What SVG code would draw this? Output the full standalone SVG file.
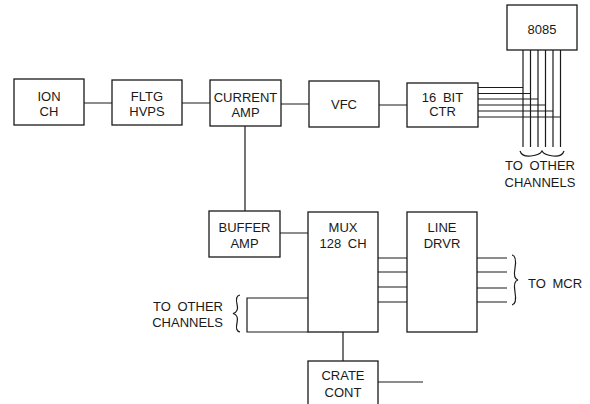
<svg xmlns="http://www.w3.org/2000/svg" width="590" height="404" viewBox="0 0 590 404">
<style>
.box{fill:#fff;stroke:#1a1a1a;stroke-width:1.3}
.ln{fill:none;stroke:#1a1a1a;stroke-width:1.2}
text{font-family:"Liberation Sans",Arial,sans-serif;font-size:13px;fill:#1a1a1a}
.c{text-anchor:middle}
</style>
<rect width="590" height="404" fill="#fff"/>
<g id="connectors" class="ln">
<path d="M84,103H112M182,103H210M281,104H309M379,105H407M245,126V211M280,233H308"/>
<path d="M378,258H407M378,272H407M378,287H407M378,302H407"/>
<path d="M477,258H507M477,272H507M477,288H507M477,302H507"/>
<path d="M308,298H247V332H308"/>
<path d="M343,332V361M378,382H423"/>
<path d="M478,87.5H523M478,93.5H530.5M478,99H538M478,105H545.5M478,111H553M478,117H560.5"/>
<path d="M523,50V147M530.5,50V147M538,50V147M545.5,50V147M553,50V147M560.5,50V147"/>
<path d="M520,151Q522,157 531,156Q540,155 542,151Q544,155 553,156Q562,157 564,151"/>
<path d="M240,295Q235,296 237,304Q239,312 233,313.5Q239,315 237,323Q235,331 240,332"/>
<path d="M512,255Q517,256 515,268Q513,279 518,280Q513,281 515,292Q517,304 512,305"/>
</g>
<g id="ion"><rect class="box" x="14" y="79" width="70" height="46"/><text class="c" x="49" y="100.5">ION</text><text class="c" x="49" y="116">CH</text></g>
<g id="fltg"><rect class="box" x="112" y="80" width="70" height="45"/><text class="c" x="147" y="100.5">FLTG</text><text class="c" x="147" y="116">HVPS</text></g>
<g id="current"><rect class="box" x="210" y="80" width="71" height="46"/><text class="c" x="245.5" y="101.5">CURRENT</text><text class="c" x="245.5" y="117">AMP</text></g>
<g id="vfc"><rect class="box" x="309" y="81" width="70" height="46"/><text class="c" x="344" y="109">VFC</text></g>
<g id="ctr"><rect class="box" x="407" y="83" width="71" height="44"/><text class="c" x="442.5" y="102" word-spacing="3">16 BIT</text><text class="c" x="442.5" y="115.5">CTR</text></g>
<g id="cpu"><rect class="box" x="507" y="5" width="70" height="45"/><text class="c" x="542" y="33.5">8085</text></g>
<g id="buffer"><rect class="box" x="209" y="211" width="71" height="46"/><text class="c" x="244.5" y="232">BUFFER</text><text class="c" x="244.5" y="248">AMP</text></g>
<g id="mux"><rect class="box" x="308" y="212" width="70" height="120"/><text class="c" x="343" y="232">MUX</text><text class="c" x="343" y="248" word-spacing="3">128 CH</text></g>
<g id="linedrvr"><rect class="box" x="407" y="212" width="70" height="120"/><text class="c" x="442" y="232">LINE</text><text class="c" x="442" y="248">DRVR</text></g>
<g id="crate"><rect class="box" x="308" y="361" width="70" height="50"/><text class="c" x="343" y="380">CRATE</text><text class="c" x="343" y="397">CONT</text></g>
<g id="labels">
<text class="c" x="540" y="170" word-spacing="3">TO OTHER</text><text class="c" x="540" y="187">CHANNELS</text>
<text x="223" y="311" text-anchor="end" word-spacing="3">TO OTHER</text><text x="223" y="327" text-anchor="end">CHANNELS</text>
<text x="528" y="288" word-spacing="3">TO MCR</text>
</g>
</svg>
